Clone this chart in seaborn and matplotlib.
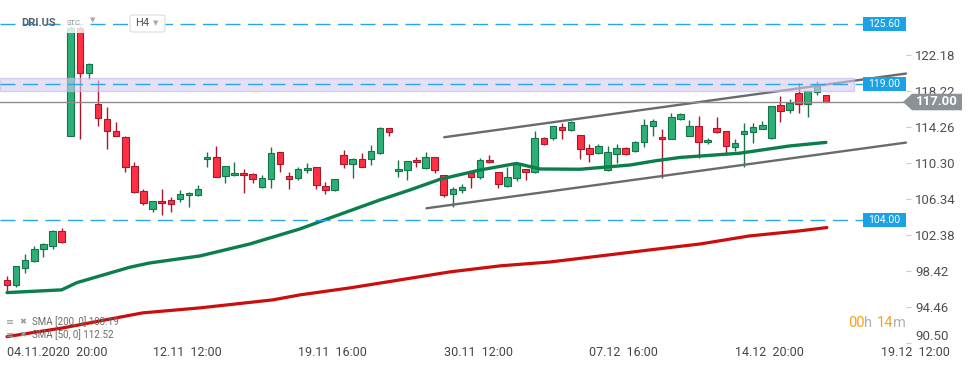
import numpy as np
import pandas as pd
import seaborn as sns
import matplotlib.pyplot as plt
from matplotlib.patches import Rectangle, Polygon, FancyBboxPatch
from matplotlib.transforms import blended_transform_factory

# DRI.US, H4 candles (one entry per bar, left to right)
opens = [97.40, 96.85, 98.79, 99.49, 100.81, 101.14, 102.79, 113.30, 125.13, 120.15,
         116.74, 115.13, 113.81, 113.12, 109.96, 107.18, 105.27, 106.08, 106.19, 106.30,
         106.74, 106.81, 110.70, 110.95, 108.86, 108.94, 109.16, 109.05, 107.62, 108.50,
         111.47, 108.83, 108.61, 109.49, 109.82, 107.80, 107.29, 111.14, 110.15, 110.70,
         110.70, 111.42, 114.11, 109.38, 109.49, 110.59, 109.78, 110.92, 108.94, 106.85,
         107.29, 109.16, 108.79, 110.62, 109.27, 107.80, 108.61, 109.60, 109.27, 113.01,
         113.01, 114.28, 113.89, 113.34, 111.91, 111.36, 109.49, 111.25, 111.91, 111.64,
         112.57, 114.33, 113.12, 112.93, 115.16, 113.23, 114.33, 112.57, 114.11, 113.78,
         112.02, 113.45, 113.67, 114.06, 113.01, 116.63, 116.08, 117.95, 116.74, 118.06,
         117.73]
highs = [97.87, 98.94, 100.30, 101.17, 101.53, 102.90, 103.12, 125.30, 125.30, 121.31,
         119.41, 116.41, 114.80, 113.20, 110.40, 107.40, 106.15, 107.44, 106.59, 107.33,
         107.10, 107.91, 111.53, 112.16, 110.00, 110.44, 109.63, 109.20, 109.00, 112.05,
         111.50, 109.30, 109.82, 110.29, 109.90, 108.20, 108.55, 111.72, 110.84, 111.42,
         112.27, 114.25, 114.15, 110.59, 110.55, 110.92, 111.47, 111.00, 109.00, 107.62,
         107.95, 109.30, 110.81, 111.17, 109.30, 109.89, 110.33, 109.65, 113.81, 113.15,
         114.40, 114.69, 114.94, 113.40, 112.38, 112.38, 112.16, 112.38, 112.08, 112.70,
         115.13, 115.13, 114.00, 115.75, 115.82, 115.02, 115.46, 113.04, 115.35, 113.85,
         112.90, 114.69, 114.69, 114.91, 116.60, 117.65, 117.29, 119.05, 118.20, 119.30,
         117.75]
lows = [96.26, 96.63, 98.24, 99.40, 99.99, 100.87, 101.50, 113.20, 112.90, 119.56,
        114.39, 111.86, 113.20, 109.34, 107.00, 105.64, 104.87, 104.54, 104.94, 106.04,
        105.49, 106.70, 109.89, 108.70, 108.06, 108.90, 107.03, 108.13, 107.55, 107.58,
        109.34, 107.47, 108.39, 109.16, 107.40, 106.92, 107.20, 109.78, 108.68, 109.80,
        110.04, 111.31, 113.29, 108.79, 108.42, 109.89, 109.63, 109.16, 106.59, 105.42,
        106.96, 107.58, 108.50, 110.30, 107.58, 107.70, 108.35, 108.39, 109.20, 112.30,
        112.82, 112.90, 113.80, 110.76, 110.44, 111.30, 109.40, 110.26, 111.20, 111.50,
        112.08, 113.29, 108.61, 112.90, 115.02, 113.20, 110.81, 112.35, 113.60, 111.36,
        111.61, 109.89, 112.46, 114.00, 112.95, 114.83, 115.82, 115.82, 115.38, 117.73,
        117.00]
closes = [96.85, 98.94, 99.60, 100.81, 101.36, 102.79, 101.58, 125.13, 120.15, 121.17,
          115.20, 113.78, 113.29, 109.82, 107.07, 105.93, 106.08, 105.86, 105.75, 106.89,
          106.99, 107.44, 110.98, 108.79, 109.96, 109.19, 108.94, 108.50, 108.61, 111.36,
          110.15, 108.57, 109.60, 109.71, 107.84, 107.29, 108.50, 110.15, 110.70, 109.82,
          111.58, 114.11, 113.73, 109.60, 110.48, 110.37, 110.92, 109.49, 106.81, 107.40,
          107.62, 108.79, 110.62, 110.37, 107.95, 108.72, 110.18, 109.27, 113.01, 112.35,
          114.33, 113.89, 114.76, 111.80, 111.25, 112.13, 111.47, 111.91, 111.25, 112.63,
          114.44, 114.87, 112.90, 115.31, 115.64, 114.33, 112.57, 112.79, 113.67, 112.13,
          112.49, 113.78, 114.22, 114.44, 116.52, 115.97, 116.85, 116.74, 118.17, 118.83,
          117.00]

# moving averages: (bar number, value) vertices
sma50_bar = [0, 6.0, 7.7, 10.2, 13.5, 15.7, 21.2, 26.7, 32.2, 35.2, 41, 44.3, 47.6,
             52, 56, 58.6, 63, 68.5, 71.4, 74, 80.5, 86, 90]
sma50_val = [96.04, 96.34, 97.14, 97.87, 98.83, 99.30, 100.07, 101.39, 103.04, 104.14,
             106.23, 107.33, 108.50, 109.52, 110.24, 109.63, 109.60, 110.07, 110.55,
             110.90, 111.36, 112.16, 112.55]
sma200_bar = [0, 6.15, 14.9, 21.2, 29.2, 32.2, 37.7, 43.2, 48.7, 54.2, 59.7, 65.2,
              70.7, 76.2, 81.6, 87.1, 90.1]
sma200_val = [91.20, 92.16, 93.81, 94.36, 95.24, 95.79, 96.56, 97.44, 98.32, 98.98,
              99.41, 100.07, 100.74, 101.39, 102.27, 102.82, 103.19]

# channel drawn on the chart
upper_bar = [48.05, 98.8]
upper_val = [113.12, 120.12]
lower_bar = [46.1, 98.8]
lower_val = [105.31, 112.53]

levels = [125.60, 119.00, 104.00]
zone_low, zone_high = 118.20, 119.63
last_price = 117.00

y_ticks = [90.50, 94.46, 98.42, 102.38, 106.34, 110.30, 114.26, 118.22, 122.18]
x_tick_bars = [0, 16, 32, 48, 64, 80, 96]
x_tick_labels = ['04.11.2020  20:00', '12.11  12:00', '19.11  16:00', '30.11  12:00',
                 '07.12  16:00', '14.12  20:00', '19.12  12:00']

sns.set_style('white')
plt.rcParams['font.family'] = ['Roboto', 'DejaVu Sans']

W, H = 974, 368
fig = plt.figure(figsize=(W / 100, H / 100), dpi=100)
ax = fig.add_axes([0, 25 / H, 906 / W, 343 / H])
ax.set_xlim(-0.77, 98.8)
ax.set_ylim(90.511, 128.204)
for s in ax.spines.values():
    s.set_visible(False)

df = pd.DataFrame({'open': opens, 'high': highs, 'low': lows, 'close': closes})
df['bar'] = np.arange(len(df))
up = df['close'] >= df['open']
fill = np.where(up, '#2db077', '#ff3044')
edge = np.where(up, '#167548', '#a8182b')

# wicks, then bodies
ax.vlines(df['bar'], df['low'], df['high'], colors=edge, lw=1, zorder=3)
ax.bar(df['bar'], np.maximum((df['close'] - df['open']).abs(), 0.2),
       bottom=np.minimum(df['open'], df['close']), width=0.72,
       color=fill, edgecolor=edge, linewidth=0.8, zorder=4)

sns.lineplot(x=sma200_bar, y=sma200_val, ax=ax, color='#cc0d0d', lw=2.3,
             sort=False, estimator=None, zorder=5)
sns.lineplot(x=sma50_bar, y=sma50_val, ax=ax, color='#0b7f4b', lw=2.4,
             sort=False, estimator=None, zorder=5)

ax.plot(upper_bar, upper_val, color='#6a6a6a', lw=1.7, zorder=5, clip_on=False)
ax.plot(lower_bar, lower_val, color='#6a6a6a', lw=1.7, zorder=5, clip_on=False)

# zone and levels
ax.axhspan(zone_low, zone_high, xmax=854 / 906, fc='#d6ccf0', ec='#c2b4e6',
           lw=1, alpha=0.6, zorder=6)
for lv in levels:
    ax.axhline(lv, xmax=863 / 906, color='#27a6e8', lw=1, ls=(0, (10.8, 5.4)), zorder=6.5)
ax.axhline(last_price, color='#8c8c8c', lw=1, zorder=6.5)

bt = blended_transform_factory(ax.transAxes, ax.transData)
for lv in levels:
    ax.add_patch(Rectangle((863 / 906, lv - 0.77), 43 / 906, 1.54, transform=bt,
                           fc='#19a2e6', ec='none', clip_on=False, zorder=8))
    ax.text(884.5 / 906, lv, f'{lv:.2f}', transform=bt, ha='center', va='center',
            color='white', fontsize=7.5, zorder=9, clip_on=False)

arrow = [(903 / 906, last_price), (912 / 906, last_price + 0.9), (962 / 906, last_price + 0.9),
         (962 / 906, last_price - 0.92), (912 / 906, last_price - 0.92)]
ax.add_patch(Polygon(arrow, closed=True, transform=bt, fc='#8b9196', ec='none',
                     clip_on=False, zorder=8))
ax.text(937 / 906, last_price, f'{last_price:.2f}', transform=bt, ha='center', va='center',
        color='white', fontsize=9.5, fontweight='bold', zorder=9, clip_on=False)

# axes ticks
ax.yaxis.tick_right()
ax.set_yticks(y_ticks, [f'{v:.2f}' for v in y_ticks])
ax.tick_params(axis='y', length=3.6, width=0.8, color='#cccccc', labelsize=9.5,
               labelcolor='#505050', pad=3)
ax.yaxis.get_major_ticks()[0].label2.set_verticalalignment('bottom')
ax.set_xticks(x_tick_bars, x_tick_labels, ha='left')
ax.tick_params(axis='x', length=2, width=0.8, color='#d8d8d8', labelsize=9,
               labelcolor='#454545', pad=0)
ax.set_xlabel('')
ax.set_ylabel('')


def fx(x):
    return x / W


def fy(y):
    return 1 - y / H


# header
fig.add_artist(Rectangle((fx(64), fy(33)), 21 / W, 19 / H, transform=fig.transFigure,
                         fc='white', ec='none', alpha=0.8, zorder=4))
fig.text(fx(21), fy(23), 'DRI.US', fontsize=8, fontweight='bold', color='#56606a',
         va='center', zorder=5)
fig.text(fx(67), fy(23), 'STC', fontsize=5.5, color='#909090', va='center', zorder=5)
fig.text(fx(90), fy(21), '▼', fontsize=5, color='#a8a8a8', va='center', zorder=5)
fig.add_artist(FancyBboxPatch((fx(130), fy(32)), 35 / W, 17 / H,
                              boxstyle='round,pad=0,rounding_size=0.004',
                              transform=fig.transFigure, fc='white', ec='#dcdcdc',
                              lw=0.8, zorder=4))
fig.text(fx(135), fy(23.5), 'H4', fontsize=8, color='#555555', va='center', zorder=5)
fig.text(fx(153), fy(23.5), '▼', fontsize=5, color='#a8a8a8', va='center', zorder=5)

# indicator legend
for row, label in [(322, f'SMA [200, 0] {sma200_val[-1]:.2f}'),
                   (335, f'SMA [50, 0] {112.52:.2f}')]:
    fig.text(fx(6), fy(row), '≡', fontsize=7, color='#9a9a9a', va='center', zorder=5)
    fig.text(fx(19), fy(row), '✖', fontsize=6, color='#9a9a9a', va='center', zorder=5)
    fig.text(fx(32), fy(row), label, fontsize=7, color='#6a6a6a', va='center', zorder=5)

# bar countdown
for x, s, c in [(848, '00', '#f5a31a'), (864, 'h', '#b0b0b0'),
                (877, '14', '#f5a31a'), (893, 'm', '#b0b0b0')]:
    fig.text(fx(x), fy(323), s, fontsize=10.5, color=c, va='center', zorder=5)

fig.savefig('out.png', dpi=100)
